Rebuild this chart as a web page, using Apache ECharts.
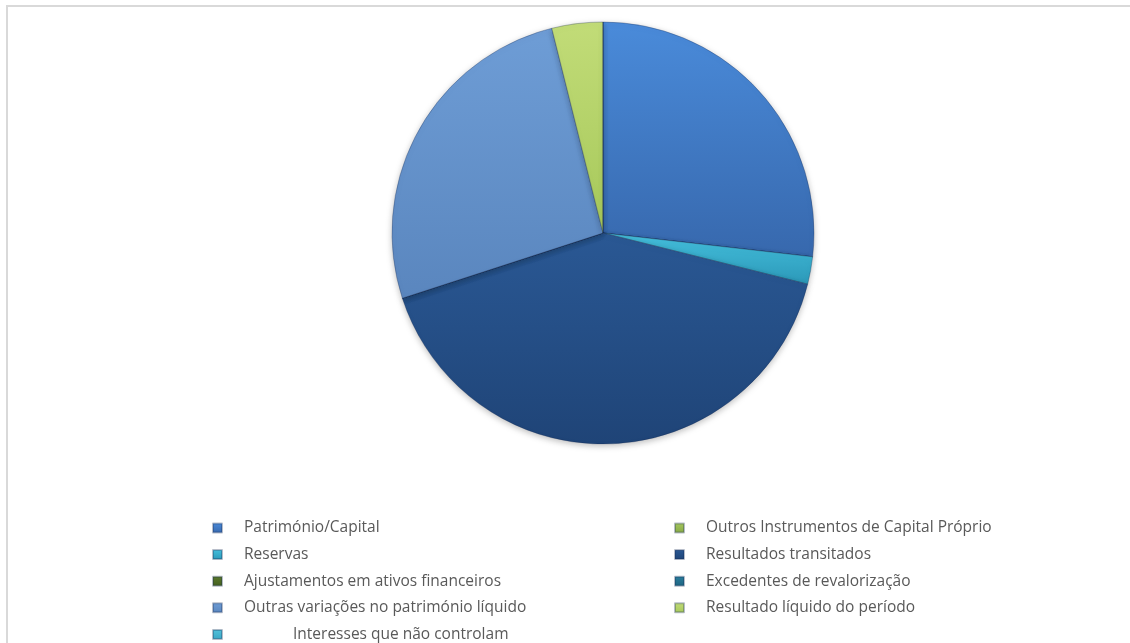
<!DOCTYPE html>
<html>
<head>
<meta charset="utf-8">
<script src="https://cdn.jsdelivr.net/npm/echarts@6/dist/echarts.min.js"></script>
<style>
  html, body { margin: 0; padding: 0; background: #ffffff; }
  #chart { width: 1130px; height: 643px; }
</style>
</head>
<body>
<div id="chart"></div>
<script>
// Estrutura do capital próprio (% do total)
const categories = [
  'Património/Capital',
  'Outros Instrumentos de Capital Próprio',
  'Reservas',
  'Resultados transitados',
  'Ajustamentos em ativos financeiros',
  'Excedentes de revalorização',
  'Outras variações no património líquido',
  'Resultado líquido do período',
  'Interesses que não controlam'
];
const shares = [26.8, 0, 2.1, 41.1, 0, 0, 26.1, 3.9, 0];

// Legend columns (row-major, two per row)
const legendLeft = [categories[0], categories[2], categories[4], categories[6], categories[8]];
const legendRight = [categories[1], categories[3], categories[5], categories[7]];

// [top colour, bottom colour] per slice
const palette = [
  ['#4a8bda', '#3768ad'],
  ['#a6c85e', '#86a845'],
  ['#45c0dd', '#2b98b8'],
  ['#2a5894', '#1f4477'],
  ['#5b7a2c', '#435e1e'],
  ['#2b7f9e', '#1d6380'],
  ['#6e9dd6', '#5a86be'],
  ['#c2dc78', '#a6c85a'],
  ['#55c3dc', '#3aa6c4']
];

function grad(c) {
  return new echarts.graphic.LinearGradient(0, 0, 0, 1, [
    { offset: 0, color: c[0] },
    { offset: 1, color: c[1] }
  ]);
}

const pieData = categories.map((name, i) => ({
  name: name,
  value: shares[i],
  itemStyle: { color: grad(palette[i]) }
}));

const chart = echarts.init(document.getElementById('chart'), null, { renderer: 'canvas' });

const FS = 15.5;
const legendBase = {
  orient: 'vertical',
  top: 520,
  padding: 0,
  itemWidth: 9,
  itemHeight: 9,
  itemGap: 10.6,
  icon: 'rect',
  selectedMode: false,
  formatter: function (name) {
    return name === 'Interesses que não controlam' ? '{ind|' + name + '}' : '{t|' + name + '}';
  },
  textStyle: {
    color: '#595959',
    fontFamily: 'Open Sans',
    fontSize: FS,
    lineHeight: 16,
    rich: {
      t: { padding: [0, 0, 0, 17], fontFamily: 'Open Sans', fontSize: FS, color: '#595959', lineHeight: 16 },
      ind: { padding: [0, 0, 0, 66], fontFamily: 'Open Sans', fontSize: FS, color: '#595959', lineHeight: 16 }
    }
  }
};

chart.setOption({
  animation: false,
  backgroundColor: '#ffffff',
  graphic: [{
    type: 'rect',
    shape: { x: 7, y: 6, width: 1140, height: 660 },
    style: { fill: 'none', stroke: '#d9d9d9', lineWidth: 2 },
    silent: true,
    z: -1
  }],
  legend: [
    Object.assign({}, legendBase, { left: 212, data: legendLeft }),
    Object.assign({}, legendBase, { left: 674, data: legendRight })
  ],
  series: [{
    type: 'pie',
    center: [603, 233],
    radius: [0, 211],
    startAngle: 90,
    clockwise: true,
    label: { show: false },
    labelLine: { show: false },
    emphasis: { disabled: true },
    itemStyle: {
      borderColor: 'rgba(20,40,80,0.3)',
      borderWidth: 1,
      shadowBlur: 6,
      shadowColor: 'rgba(0,0,0,0.25)',
      shadowOffsetY: 2
    },
    data: pieData
  }]
});
</script>
</body>
</html>
